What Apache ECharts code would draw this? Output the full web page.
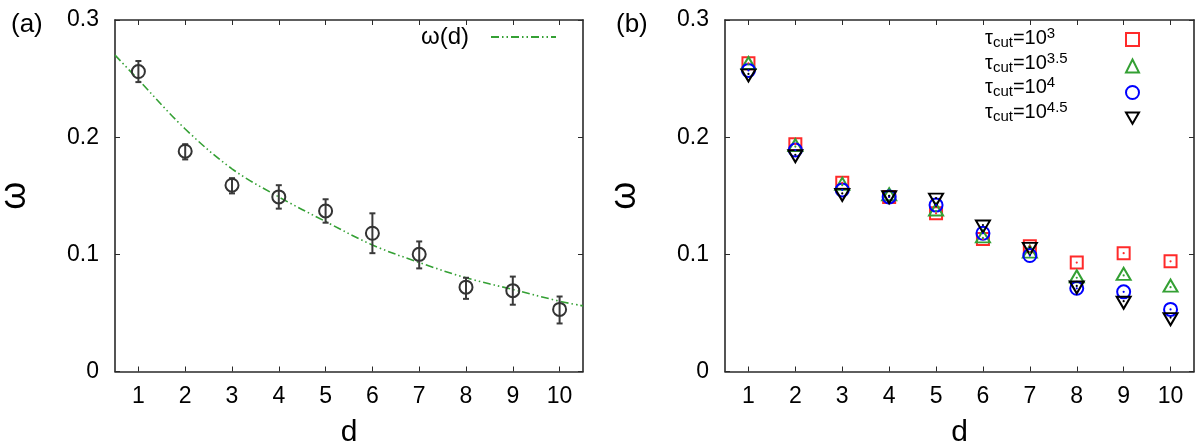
<!DOCTYPE html>
<html>
<head>
<meta charset="utf-8">
<script src="https://cdn.jsdelivr.net/npm/echarts@6/dist/echarts.min.js"></script>
<style>
  html, body { margin: 0; padding: 0; background: #fff; }
  #chart { width: 1200px; height: 446px; }
</style>
</head>
<body>
<div id="chart"></div>
<script>
// panel (a): measured omega with error bars, and the fitted omega(d)
var dVals = [1, 2, 3, 4, 5, 6, 7, 8, 9, 10];
var omegaA = [0.256, 0.188, 0.159, 0.149, 0.137, 0.118, 0.100, 0.072, 0.069, 0.053];
var errLow = [0.247, 0.181, 0.152, 0.139, 0.127, 0.101, 0.088, 0.062, 0.057, 0.041];
var errHigh = [0.265, 0.194, 0.165, 0.159, 0.147, 0.135, 0.111, 0.080, 0.081, 0.064];
var fitX = [0.5, 1, 2, 3, 4, 5, 6, 7, 8, 9, 10, 10.5];
var fitY = [0.270, 0.249, 0.207, 0.173, 0.149, 0.128, 0.108, 0.093, 0.080, 0.070, 0.060, 0.056];

// panel (b): omega for each tau_cut
var tau3 = [0.263, 0.194, 0.161, 0.149, 0.135, 0.113, 0.107, 0.093, 0.101, 0.094];
var tau35 = [0.262, 0.192, 0.159, 0.150, 0.137, 0.114, 0.101, 0.080, 0.082, 0.072];
var tau4 = [0.257, 0.189, 0.155, 0.149, 0.142, 0.118, 0.099, 0.071, 0.068, 0.053];
var tau45 = [0.254, 0.185, 0.152, 0.150, 0.148, 0.125, 0.106, 0.073, 0.060, 0.046];

var xTicks = [1, 2, 3, 4, 5, 6, 7, 8, 9, 10];
var yTicks = [0, 0.1, 0.2, 0.3];

var FONT = "Liberation Sans";
var GREEN = "#34a034";
var RED = "#ff2a2a";
var BLUE = "#0000ff";
var AXC = "#2a2a2a";
var DOWN_TRI = "path://M0,0L14,0L7,12Z";

function pairs(xs, ys) {
  return xs.map(function (x, i) { return [x, ys[i]]; });
}

function xAx(grid, pos, mirror) {
  return {
    type: "value", gridIndex: grid, position: pos,
    min: 0.5, max: 10.5,
    name: mirror ? "" : "d",
    nameLocation: "middle", nameGap: 46,
    nameTextStyle: { fontFamily: FONT, fontSize: 30, color: "#000" },
    axisLine: { show: true, onZero: false, lineStyle: { color: AXC, width: 1.6 } },
    axisTick: { show: true, inside: true, length: 5, customValues: xTicks, lineStyle: { color: AXC, width: 1 } },
    axisLabel: { show: !mirror, customValues: xTicks, margin: 14, fontFamily: FONT, fontSize: 23, color: "#000" },
    splitLine: { show: false }
  };
}

function yAx(grid, pos, mirror) {
  return {
    type: "value", gridIndex: grid, position: pos,
    min: 0, max: 0.3, interval: 0.1,
    name: mirror ? "" : "ω",
    nameLocation: "middle", nameGap: 82, nameRotate: 90,
    nameTextStyle: { fontFamily: FONT, fontSize: 36, color: "#000" },
    axisLine: { show: true, onZero: false, lineStyle: { color: AXC, width: 1.6 } },
    axisTick: { show: true, inside: true, length: 5, customValues: yTicks, lineStyle: { color: AXC, width: 1 } },
    axisLabel: { show: !mirror, customValues: yTicks, margin: 16, fontFamily: FONT, fontSize: 23, color: "#000" },
    splitLine: { show: false }
  };
}

var bNames = ["t3", "t35", "t4", "t45"];
var bLabels = [
  "{t|τ}{s|cut}{t|=10}{p|3}",
  "{t|τ}{s|cut}{t|=10}{p|3.5}",
  "{t|τ}{s|cut}{t|=10}{p|4}",
  "{t|τ}{s|cut}{t|=10}{p|4.5}"
];
var richB = {
  t: { fontFamily: FONT, fontSize: 20, color: "#000", lineHeight: 24 },
  s: { fontFamily: FONT, fontSize: 15, color: "#000", verticalAlign: "bottom", lineHeight: 15 },
  p: { fontFamily: FONT, fontSize: 15, color: "#000", verticalAlign: "top", lineHeight: 15 }
};

function markerSeries(name, data, symbol, color, size, offset) {
  return {
    name: name, type: "scatter", xAxisIndex: 2, yAxisIndex: 2,
    data: pairs(dVals, data),
    symbol: symbol, symbolSize: size,
    symbolOffset: offset || [0, 0],
    itemStyle: { color: "rgba(0,0,0,0)", borderColor: color, borderWidth: 2, opacity: 1 },
    z: 3
  };
}

function dotSeries(data, color) {
  return {
    type: "scatter", xAxisIndex: 2, yAxisIndex: 2,
    data: pairs(dVals, data),
    symbol: "circle", symbolSize: 2.2, silent: true,
    itemStyle: { color: color, opacity: 1 }, z: 4
  };
}

var chart = echarts.init(document.getElementById("chart"), null, { renderer: "canvas" });

var option = {
  animation: false,
  backgroundColor: "#fff",
  title: [
    { text: "(a)", left: 11, top: 12, padding: 0, textStyle: { fontFamily: FONT, fontSize: 26, fontWeight: "normal", color: "#000" } },
    { text: "(b)", left: 616, top: 12, padding: 0, textStyle: { fontFamily: FONT, fontSize: 26, fontWeight: "normal", color: "#000" } }
  ],
  grid: [
    { left: 115, top: 20, width: 468, height: 351.5, outerBoundsMode: "none", containLabel: false },
    { left: 725, top: 20, width: 469, height: 351.5, outerBoundsMode: "none", containLabel: false }
  ],
  xAxis: [xAx(0, "bottom", false), xAx(0, "top", true), xAx(1, "bottom", false), xAx(1, "top", true)],
  yAxis: [yAx(0, "left", false), yAx(0, "right", true), yAx(1, "left", false), yAx(1, "right", true)],
  legend: [
    {
      // line icon only, its text is drawn by the graphic below
      data: ["ω(d)"], orient: "vertical", left: 490, top: 30, padding: 0,
      itemWidth: 65, itemHeight: 14,
      formatter: function () { return ""; },
      itemStyle: { color: "rgba(0,0,0,0)", borderWidth: 0, opacity: 0 }
    },
    {
      data: bNames, orient: "vertical", left: 1125, top: 32, padding: 0,
      itemWidth: 13, itemHeight: 13, itemGap: 11.5,
      formatter: function () { return ""; }
    }
  ],
  graphic: [
    { type: "text", left: 421, top: 25, silent: true,
      style: { text: "ω(d)", fontFamily: FONT, fontSize: 24, fill: "#000" } }
  ].concat(bLabels.map(function (s, i) {
    return {
      type: "text", silent: true,
      style: { x: 985, y: 38.5 + i * 24.5, text: s, rich: richB, verticalAlign: "middle", align: "left" }
    };
  })),
  series: [
    {
      name: "ω(d)", type: "line", xAxisIndex: 0, yAxisIndex: 0,
      data: pairs(fitX, fitY), symbol: "none", smooth: 0.35,
      lineStyle: { color: GREEN, width: 1.6, type: [8, 3, 1.5, 3, 1.5, 3] },
      itemStyle: { color: GREEN }, z: 2
    },
    {
      type: "custom", xAxisIndex: 0, yAxisIndex: 0,
      data: dVals.map(function (d, i) { return [d, errLow[i], errHigh[i]]; }),
      encode: { x: 0, y: [1, 2] },
      renderItem: function (params, api) {
        var lo = api.coord([api.value(0), api.value(1)]);
        var hi = api.coord([api.value(0), api.value(2)]);
        var st = { stroke: "#3a3a3a", lineWidth: 2 };
        var c = 3;
        return {
          type: "group",
          children: [
            { type: "line", shape: { x1: lo[0], y1: lo[1], x2: hi[0], y2: hi[1] }, style: st },
            { type: "line", shape: { x1: lo[0] - c, y1: lo[1], x2: lo[0] + c, y2: lo[1] }, style: st },
            { type: "line", shape: { x1: hi[0] - c, y1: hi[1], x2: hi[0] + c, y2: hi[1] }, style: st }
          ]
        };
      },
      z: 3
    },
    {
      type: "scatter", xAxisIndex: 0, yAxisIndex: 0,
      data: pairs(dVals, omegaA), symbol: "circle", symbolSize: 13,
      itemStyle: { color: "rgba(0,0,0,0)", borderColor: "#333", borderWidth: 2, opacity: 1 }, z: 4
    },
    markerSeries("t3", tau3, "rect", RED, 12),
    markerSeries("t35", tau35, "triangle", GREEN, [14, 12], [0, -1.5]),
    markerSeries("t4", tau4, "circle", BLUE, 13),
    markerSeries("t45", tau45, DOWN_TRI, "#000", [14, 12], [0, 1.5]),
    dotSeries(tau3, RED),
    dotSeries(tau35, GREEN),
    dotSeries(tau4, BLUE),
    dotSeries(tau45, "#000")
  ]
};

chart.setOption(option);
</script>
</body>
</html>
